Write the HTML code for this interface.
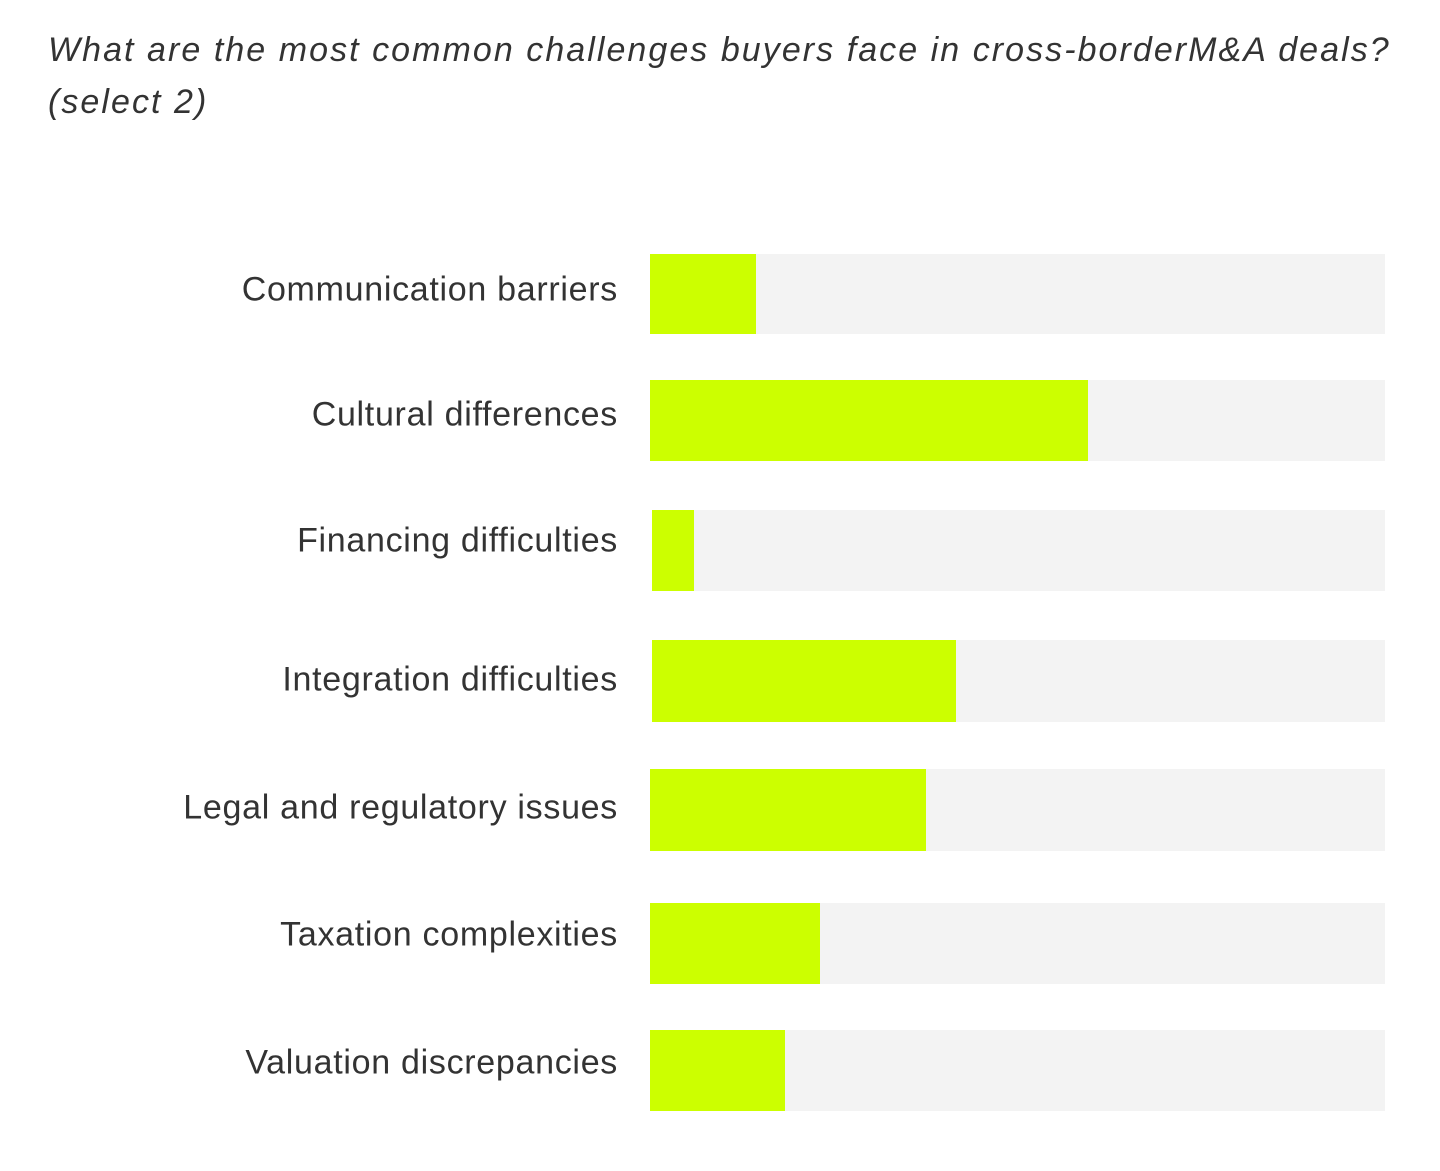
<!DOCTYPE html>
<html><head><meta charset="utf-8"><style>
body{margin:0;width:1440px;height:1171px;background:#fff;position:relative;font-family:"Liberation Sans",sans-serif;overflow:hidden}
.t{position:absolute;left:48px;top:24px;font-size:34px;font-style:italic;color:#333;line-height:52px;letter-spacing:2.05px;white-space:nowrap}
.l{position:absolute;right:822px;font-size:34px;color:#333;white-space:nowrap;transform:translateY(-50%);letter-spacing:0.7px}
.b{position:absolute;background:#f3f3f3;right:55px}
.g{position:absolute;left:0;top:0;bottom:0;background:#ccff00}
</style></head><body>
<div class="t">What are the most common challenges buyers face in cross-borderM&amp;A deals?<br>(select 2)</div>

<div class="l" style="top:290px">Communication barriers</div>
<div class="b" style="left:650px;top:254px;height:80px"><div class="g" style="width:106px"></div></div>

<div class="l" style="top:415px">Cultural differences</div>
<div class="b" style="left:650px;top:380px;height:81px"><div class="g" style="width:438px"></div></div>

<div class="l" style="top:541px">Financing difficulties</div>
<div class="b" style="left:652px;top:510px;height:81px"><div class="g" style="width:42px"></div></div>

<div class="l" style="top:680px">Integration difficulties</div>
<div class="b" style="left:652px;top:640px;height:82px"><div class="g" style="width:304px"></div></div>

<div class="l" style="top:808px">Legal and regulatory issues</div>
<div class="b" style="left:650px;top:769px;height:82px"><div class="g" style="width:276px"></div></div>

<div class="l" style="top:935px">Taxation complexities</div>
<div class="b" style="left:650px;top:903px;height:81px"><div class="g" style="width:170px"></div></div>

<div class="l" style="top:1063px">Valuation discrepancies</div>
<div class="b" style="left:650px;top:1030px;height:81px"><div class="g" style="width:135px"></div></div>
</body></html>
